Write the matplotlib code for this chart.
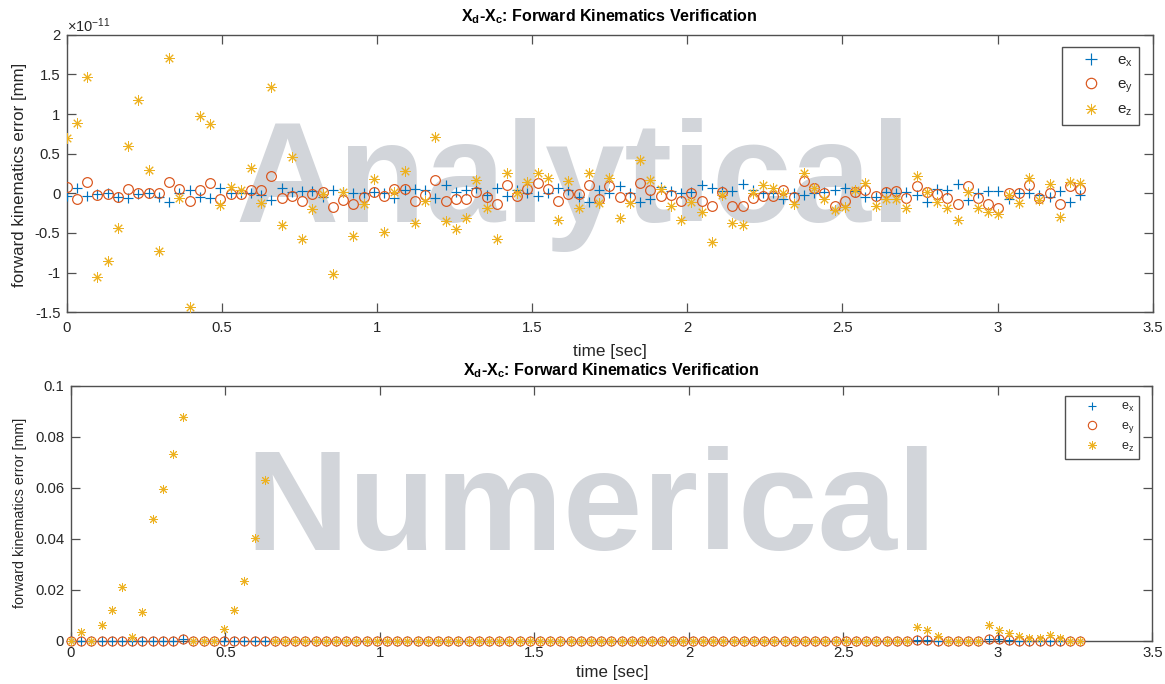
import numpy as np
import matplotlib
matplotlib.use('Agg')
import matplotlib.pyplot as plt
from matplotlib.ticker import FuncFormatter, FixedLocator
from matplotlib.lines import Line2D

plt.rcParams['font.family'] = ['Liberation Sans', 'DejaVu Sans']
plt.rcParams['mathtext.fontset'] = 'custom'
plt.rcParams['mathtext.rm'] = 'Liberation Sans'
plt.rcParams['mathtext.it'] = 'Liberation Sans:italic'
plt.rcParams['mathtext.bf'] = 'Liberation Sans:bold'
plt.rcParams['axes.unicode_minus'] = False

# ---------------- data ----------------
dt = 0.033
time = np.arange(100) * dt

SCALE = 1e-11  # analytical errors are given in units of 1e-11 mm
ex_an = [-0.038, 0.069, -0.038, -0.013, 0.0, -0.042, -0.063, -0.008, 0.0, -0.042,
         -0.107, 0.0, 0.040, -0.042, -0.063, 0.061, 0.008, 0.0, 0.008, -0.021,
         -0.080, 0.063, 0.021, 0.034, 0.034, -0.042, 0.046, 0.021, 0.0, 0.0,
         0.013, 0.0, -0.055, 0.042, 0.050, 0.042, -0.063, 0.105, 0.013, 0.042,
         0.063, -0.021, 0.063, -0.034, 0.042, 0.0, -0.034, 0.0, 0.071, 0.042,
         -0.042, -0.105, 0.042, 0.0, 0.092, 0.0, -0.105, -0.076, 0.084, 0.034,
         0.0, 0.013, 0.105, 0.063, 0.029, 0.034, 0.113, 0.042, 0.0, 0.0,
         -0.076, 0.0, -0.021, 0.0, 0.013, 0.042, 0.063, 0.034, -0.042, -0.042,
         0.013, 0.0, 0.021, -0.021, -0.105, 0.050, 0.042, 0.118, -0.084, 0.0,
         0.034, 0.034, -0.076, 0.0, 0.0, -0.021, -0.042, 0.034, -0.105, -0.021]
ey_an = [0.078, -0.071, 0.143, -0.021, -0.013, -0.042, 0.050, 0.008, 0.0, 0.008,
         0.145, 0.050, -0.097, 0.038, 0.128, -0.071, -0.008, -0.008, 0.038, 0.042,
         0.223, -0.063, -0.029, -0.095, -0.008, 0.013, -0.168, -0.080, -0.137, -0.046,
         0.013, -0.029, 0.050, 0.050, -0.097, -0.021, 0.168, -0.097, -0.076, -0.076,
         0.013, -0.042, -0.139, 0.105, -0.029, 0.055, 0.126, 0.055, -0.097, -0.008,
         -0.008, 0.109, -0.071, 0.088, -0.050, -0.050, 0.134, 0.042, -0.029, -0.021,
         -0.097, 0.0, -0.097, -0.160, 0.013, -0.160, -0.160, -0.055, -0.029, -0.029,
         0.042, -0.042, 0.156, 0.063, 0.0, -0.160, -0.092, 0.013, 0.042, -0.029,
         0.013, 0.034, -0.055, 0.092, 0.021, -0.008, -0.055, -0.134, 0.092, -0.055,
         -0.134, -0.189, 0.0, 0.0, 0.105, -0.063, 0.0, -0.134, 0.092, 0.055]
ez_an = [0.694, 0.883, 1.471, -1.059, -0.853, -0.441, 0.601, 1.177, 0.294, -0.723,
         1.702, -0.055, -1.438, 0.979, 0.874, -0.147, 0.084, 0.042, 0.315, -0.118,
         1.337, -0.399, 0.462, -0.580, -0.193, -0.008, -1.017, 0.020, -0.534, -0.134,
         0.177, -0.483, 0.013, 0.286, -0.378, -0.097, 0.715, -0.349, -0.454, -0.307,
         0.168, -0.181, -0.580, 0.261, 0.0, 0.143, 0.252, 0.198, -0.336, 0.160,
         -0.189, 0.261, -0.126, 0.198, -0.307, -0.126, 0.420, 0.168, 0.050, -0.156,
         -0.336, -0.105, -0.240, -0.618, -0.021, -0.378, -0.399, 0.0, 0.105, 0.063,
         0.0, -0.134, 0.261, 0.071, -0.076, -0.210, -0.168, 0.042, 0.126, -0.160,
         -0.076, -0.076, -0.189, 0.223, 0.013, -0.105, -0.189, -0.336, 0.013, -0.189,
         -0.231, -0.265, -0.021, -0.126, 0.198, -0.084, 0.118, -0.294, 0.139, 0.126]

ex_num = [0.0, 0.0, 0.0, 0.0, 0.0, 0.0, 0.0, 0.0, 0.0, 0.0,
          0.0, 0.0006, 0.0, 0.0, 0.0, 0.0, 0.0, 0.0, 0.0, 0.0,
          0.0, 0.0, 0.0, 0.0, 0.0, 0.0, 0.0, 0.0, 0.0, 0.0,
          0.0, 0.0, 0.0, 0.0, 0.0, 0.0, 0.0, 0.0, 0.0, 0.0,
          0.0, 0.0, 0.0, 0.0, 0.0, 0.0, 0.0, 0.0, 0.0, 0.0,
          0.0, 0.0, 0.0, 0.0, 0.0, 0.0, 0.0, 0.0, 0.0, 0.0,
          0.0, 0.0, 0.0, 0.0, 0.0, 0.0, 0.0, 0.0, 0.0, 0.0,
          0.0, 0.0, 0.0, 0.0, 0.0, 0.0, 0.0, 0.0, 0.0, 0.0,
          0.0, 0.0, 0.0, 0.0003, 0.0003, 0.0, 0.0, 0.0, 0.0, 0.0,
          0.0008, 0.0008, 0.0002, 0.0, 0.0, 0.0, 0.0, 0.0, 0.0, 0.0]
ey_num = [0.0, 0.0, 0.0, 0.0, 0.0, 0.0, 0.0, 0.0, 0.0, 0.0,
          0.0, 0.0006, 0.0, 0.0, 0.0, 0.0, 0.0, 0.0, 0.0, 0.0,
          0.0, 0.0, 0.0, 0.0, 0.0, 0.0, 0.0, 0.0, 0.0, 0.0,
          0.0, 0.0, 0.0, 0.0, 0.0, 0.0, 0.0, 0.0, 0.0, 0.0,
          0.0, 0.0, 0.0, 0.0, 0.0, 0.0, 0.0, 0.0, 0.0, 0.0,
          0.0, 0.0, 0.0, 0.0, 0.0, 0.0, 0.0, 0.0, 0.0, 0.0,
          0.0, 0.0, 0.0, 0.0, 0.0, 0.0, 0.0, 0.0, 0.0, 0.0,
          0.0, 0.0, 0.0, 0.0, 0.0, 0.0, 0.0, 0.0, 0.0, 0.0,
          0.0, 0.0, 0.0, 0.0003, 0.0003, 0.0, 0.0, 0.0, 0.0, 0.0,
          0.0008, 0.0008, 0.0002, 0.0, 0.0, 0.0, 0.0, 0.0, 0.0, 0.0]
ez_num = [0.0, 0.0033, 0.0, 0.0061, 0.0121, 0.0210, 0.0013, 0.0111, 0.0477, 0.0595,
          0.0731, 0.0877, 0.0, 0.0, 0.0, 0.0046, 0.0121, 0.0236, 0.0403, 0.0632,
          0.0, 0.0, 0.0, 0.0, 0.0, 0.0, 0.0, 0.0, 0.0, 0.0,
          0.0, 0.0, 0.0, 0.0, 0.0, 0.0, 0.0, 0.0, 0.0, 0.0,
          0.0, 0.0, 0.0, 0.0, 0.0, 0.0, 0.0, 0.0, 0.0, 0.0,
          0.0, 0.0, 0.0, 0.0, 0.0, 0.0, 0.0, 0.0, 0.0, 0.0,
          0.0, 0.0, 0.0, 0.0, 0.0, 0.0, 0.0, 0.0, 0.0, 0.0,
          0.0, 0.0, 0.0, 0.0, 0.0, 0.0, 0.0, 0.0, 0.0, 0.0,
          0.0, 0.0, 0.0, 0.0055, 0.0042, 0.0018, 0.0, 0.0, 0.0, 0.0,
          0.0062, 0.0042, 0.0029, 0.0018, 0.0012, 0.0010, 0.0022, 0.0012, 0.0, 0.0]

xticks = [0, 0.5, 1, 1.5, 2, 2.5, 3, 3.5]
yticks_an = [-1.5, -1, -0.5, 0, 0.5, 1, 1.5, 2]
yticks_num = [0, 0.02, 0.04, 0.06, 0.08, 0.1]
legend_labels = [r'e$_\mathrm{x}$', r'e$_\mathrm{y}$', r'e$_\mathrm{z}$']
title_txt = r'X$_\mathbf{d}$-X$_\mathbf{c}$: Forward Kinematics Verification'

# ---------------- style ----------------
C_X, C_Y, C_Z = '#0072BD', '#D95319', '#EDB120'
AX_COL = '#505050'
TXT_COL = '#262626'
WM_COL = '#D2D5DA'
STAR = (8, 2, 0)

W, H = 1165, 684
fig = plt.figure(figsize=(W / 100, H / 100), dpi=100)
ax1 = fig.add_axes([66.7 / W, 1 - 312.3 / H, 1086 / W, 277.6 / H])
ax2 = fig.add_axes([71 / W, 1 - 640.7 / H, 1081.3 / W, 255 / H])


def style_axes(ax, xpad, ypad):
    for s in ax.spines.values():
        s.set_color(AX_COL)
        s.set_linewidth(1.0)
    ax.tick_params(direction='in', top=True, right=True, length=6.5, width=0.9,
                   color=AX_COL, labelcolor=TXT_COL, labelsize=10.7)
    ax.tick_params(axis='x', pad=xpad)
    ax.tick_params(axis='y', pad=ypad)


# ---------------- top: analytical ----------------
ex_a = np.array(ex_an) * SCALE
ey_a = np.array(ey_an) * SCALE
ez_a = np.array(ez_an) * SCALE
ax1.plot(time, ex_a, ls='none', marker='+', ms=7.5, mew=0.85, color=C_X, zorder=3)
ax1.plot(time, ey_a, ls='none', marker='o', ms=7, mew=0.85, mfc='none', color=C_Y, zorder=3)
ax1.plot(time, ez_a, ls='none', marker=STAR, ms=7.5, mew=0.7, color=C_Z, zorder=3)
ax1.set_xlim(0, 3.5)
ax1.set_ylim(-1.5 * SCALE, 2 * SCALE)
ax1.xaxis.set_major_locator(FixedLocator(xticks))
ax1.yaxis.set_major_locator(FixedLocator(np.array(yticks_an) * SCALE))
ax1.xaxis.set_major_formatter(FuncFormatter(lambda v, p: f'{v:g}'))
ax1.yaxis.set_major_formatter(FuncFormatter(lambda v, p: f'{round(v / SCALE, 3):g}'))
style_axes(ax1, 6.0, 4.5)
ax1.text(235 / W, 1 - 222 / H, 'Analytical', transform=fig.transFigure,
         fontsize=103, fontweight='bold', color=WM_COL, ha='left', va='baseline', zorder=1)

h1 = [Line2D([], [], ls='none', marker='+', ms=8, mew=0.85, color=C_X),
      Line2D([], [], ls='none', marker='o', ms=7.5, mew=0.85, mfc='none', color=C_Y),
      Line2D([], [], ls='none', marker=STAR, ms=8, mew=0.7, color=C_Z)]
leg1 = ax1.legend(h1, legend_labels, loc='upper right',
                  bbox_to_anchor=(1139.3 / W, 1 - 47.3 / H), bbox_transform=fig.transFigure,
                  borderaxespad=0, fontsize=11, borderpad=0.4, handlelength=2.9,
                  handletextpad=0.3, labelspacing=0.55, fancybox=False,
                  edgecolor=AX_COL, framealpha=1)
leg1.get_frame().set_linewidth(1.0)
for t in leg1.get_texts():
    t.set_color(TXT_COL)

fig.text(67 / W, 1 - 32 / H, r'$\times$10$^{-11}$', fontsize=10.5, color=TXT_COL,
         ha='left', va='baseline')
fig.text(609 / W, 1 - 21 / H, title_txt, fontsize=11.5, fontweight='bold',
         color='black', ha='center', va='baseline')
fig.text(610 / W, 1 - 351.7 / H, 'time [sec]', fontsize=12.3, color=TXT_COL,
         ha='center', va='center')
fig.text(20 / W, 1 - 174.5 / H, 'forward kinematics error [mm]', fontsize=12.2,
         color=TXT_COL, rotation=90, ha='center', va='center')

# ---------------- bottom: numerical ----------------
ax2.plot(time, ex_num, ls='none', marker='+', ms=6.5, mew=0.8, color=C_X, zorder=3, clip_on=False)
ax2.plot(time, ey_num, ls='none', marker='o', ms=6.5, mew=0.8, mfc='none', color=C_Y, zorder=3, clip_on=False)
ax2.plot(time, ez_num, ls='none', marker=STAR, ms=6.5, mew=0.7, color=C_Z, zorder=3, clip_on=False)
ax2.set_xlim(0, 3.5)
ax2.set_ylim(0, 0.1)
ax2.xaxis.set_major_locator(FixedLocator(xticks))
ax2.yaxis.set_major_locator(FixedLocator(yticks_num))
ax2.xaxis.set_major_formatter(FuncFormatter(lambda v, p: f'{v:g}'))
ax2.yaxis.set_major_formatter(FuncFormatter(lambda v, p: f'{round(v, 4):g}'))
style_axes(ax2, 4.0, 5.0)
ax2.text(245 / W, 1 - 550 / H, 'Numerical', transform=fig.transFigure,
         fontsize=103, fontweight='bold', color=WM_COL, ha='left', va='baseline', zorder=1)

h2 = [Line2D([], [], ls='none', marker='+', ms=6, mew=0.8, color=C_X),
      Line2D([], [], ls='none', marker='o', ms=6, mew=0.8, mfc='none', color=C_Y),
      Line2D([], [], ls='none', marker=STAR, ms=6, mew=0.7, color=C_Z)]
leg2 = ax2.legend(h2, legend_labels, loc='upper right',
                  bbox_to_anchor=(1139.3 / W, 1 - 396.3 / H), bbox_transform=fig.transFigure,
                  borderaxespad=0, fontsize=9, borderpad=0.4, handlelength=3.5,
                  handletextpad=0.55, labelspacing=0.44, fancybox=False,
                  edgecolor=AX_COL, framealpha=1)
leg2.get_frame().set_linewidth(1.0)
for t in leg2.get_texts():
    t.set_color(TXT_COL)

fig.text(611 / W, 1 - 375 / H, title_txt, fontsize=11.5, fontweight='bold',
         color='black', ha='center', va='baseline')
fig.text(612 / W, 1 - 673 / H, 'time [sec]', fontsize=12.2, color=TXT_COL,
         ha='center', va='center')
fig.text(20.5 / W, 1 - 512.7 / H, 'forward kinematics error [mm]', fontsize=10.3,
         color=TXT_COL, rotation=90, ha='center', va='center')

fig.savefig('out.png', dpi=100, facecolor='white')
